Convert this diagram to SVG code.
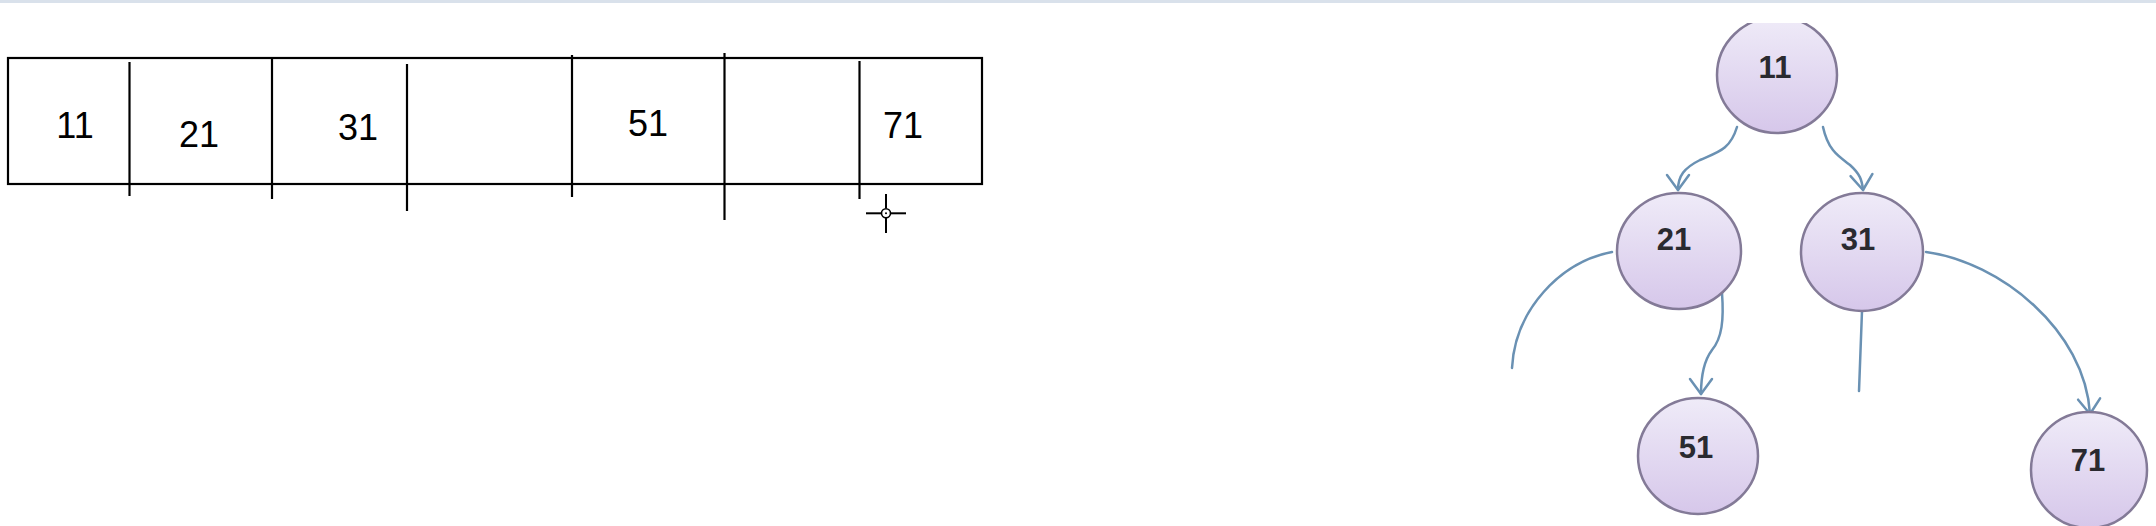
<svg xmlns="http://www.w3.org/2000/svg" width="2156" height="526" viewBox="0 0 2156 526">
<style>
.cell{fill:none;stroke:#000;stroke-width:2.2}
.tline{stroke:#000;stroke-width:2.2}
.ttxt{font-family:"Liberation Sans",Arial,sans-serif;font-size:36px;fill:#000;text-anchor:middle}
.node{fill:url(#ng);stroke:#837a97;stroke-width:2.5}
.ntxt{font-family:"Liberation Sans",Arial,sans-serif;font-size:31px;font-weight:bold;fill:#2a2a30;text-anchor:middle}
.edge{fill:none;stroke:#6a91b3;stroke-width:2.5;stroke-linecap:round}
</style>
<defs>
<linearGradient id="ng" x1="0" y1="0" x2="0" y2="1">
<stop offset="0" stop-color="#efebf8"/>
<stop offset="1" stop-color="#d6c7ea"/>
</linearGradient>
<clipPath id="topclip"><rect x="0" y="23" width="2156" height="503"/></clipPath>
<marker id="arr" viewBox="-17 -13 19 26" markerWidth="19" markerHeight="26" refX="0" refY="0" orient="auto" markerUnits="userSpaceOnUse">
<path d="M-15,-11 L0,0 L-15,11" fill="none" stroke="#6a91b3" stroke-width="2.5" stroke-linecap="round" stroke-linejoin="round"/>
</marker>
</defs>
<rect x="0" y="0" width="2156" height="526" fill="#fff"/>
<rect x="0" y="0" width="2156" height="3" fill="#d9e1eb"/>

<g id="array">
<rect class="cell" x="8" y="58" width="974" height="126"/>
<line class="tline" x1="129.5" y1="62" x2="129.5" y2="196"/>
<line class="tline" x1="272" y1="57" x2="272" y2="199"/>
<line class="tline" x1="407" y1="64" x2="407" y2="211"/>
<line class="tline" x1="572" y1="55" x2="572" y2="197"/>
<line class="tline" x1="724.5" y1="53" x2="724.5" y2="220"/>
<line class="tline" x1="859.5" y1="61" x2="859.5" y2="199"/>
<text class="ttxt" x="75" y="138">11</text>
<text class="ttxt" x="199" y="147">21</text>
<text class="ttxt" x="358" y="140">31</text>
<text class="ttxt" x="648" y="136">51</text>
<text class="ttxt" x="903" y="138">71</text>
</g>

<g id="cursor">
<line x1="886" y1="194" x2="886" y2="208.5" stroke="#000" stroke-width="2"/>
<line x1="886" y1="218" x2="886" y2="233" stroke="#000" stroke-width="2"/>
<line x1="866" y1="213.3" x2="881.5" y2="213.3" stroke="#000" stroke-width="2"/>
<line x1="890.5" y1="213.3" x2="906" y2="213.3" stroke="#000" stroke-width="2"/>
<circle cx="886" cy="213.3" r="4.5" fill="#fff" stroke="#000" stroke-width="1.6"/>
<circle cx="886" cy="213.3" r="1" fill="#000"/>
</g>

<g id="connectors">
<path class="edge" marker-end="url(#arr)" d="M1737,127 C1730,150 1718,152 1700,160 C1684,168 1678,176 1678,190"/>
<path class="edge" marker-end="url(#arr)" d="M1823,127 C1828,150 1838,156 1850,165 C1860,174 1862,180 1863,190"/>
<path class="edge" marker-end="url(#arr)" d="M1722,293 C1724,320 1722,338 1712,350 C1703,362 1701,378 1701,394"/>
<path class="edge" marker-end="url(#arr)" d="M1926,252 C2000,262 2085,330 2090,414"/>
<path class="edge" d="M1612,252 C1560,262 1515,310 1512,368"/>
<path class="edge" d="M1862,311 L1859,391"/>
</g>

<g id="n11" clip-path="url(#topclip)">
<ellipse class="node" cx="1777" cy="75" rx="60" ry="58"/>
<text class="ntxt" x="1775" y="78">11</text>
</g>
<g id="n21">
<ellipse class="node" cx="1679" cy="251" rx="62" ry="58"/>
<text class="ntxt" x="1674" y="250">21</text>
</g>
<g id="n31">
<ellipse class="node" cx="1862" cy="252" rx="61" ry="59"/>
<text class="ntxt" x="1858" y="250">31</text>
</g>
<g id="n51">
<ellipse class="node" cx="1698" cy="456" rx="60" ry="58"/>
<text class="ntxt" x="1696" y="458">51</text>
</g>
<g id="n71">
<ellipse class="node" cx="2089" cy="470" rx="58" ry="58"/>
<text class="ntxt" x="2088" y="471">71</text>
</g>
</svg>
